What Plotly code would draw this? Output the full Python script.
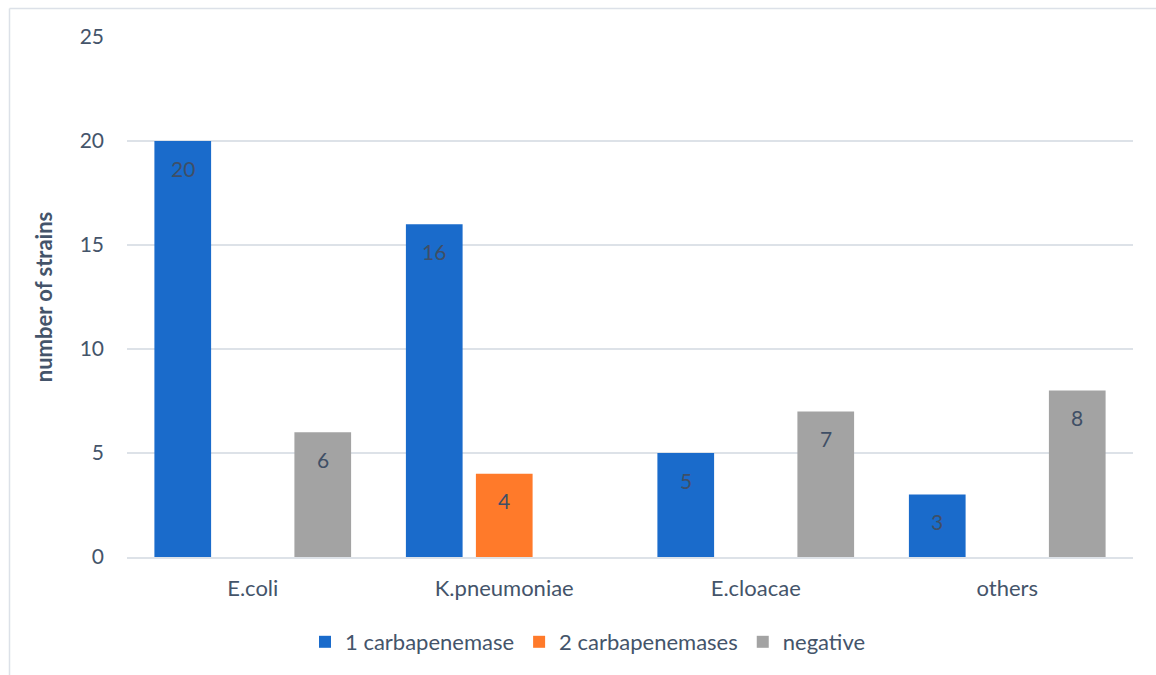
import plotly.graph_objects as go

# Strain counts per species, split by carbapenemase result
species = ["E.coli", "K.pneumoniae", "E.cloacae", "others"]
one_carbapenemase = [20, 16, 5, 3]
two_carbapenemases = [None, 4, None, None]
negative = [6, None, 7, 8]

series_names = ["1 carbapenemase", "2 carbapenemases", "negative"]
series_values = [one_carbapenemase, two_carbapenemases, negative]
series_colors = ["#1A6BCB", "#FF7A2A", "#A3A3A3"]

y_ticks = [0, 5, 10, 15, 20, 25]

TEXT = "#44546A"
GRID = "#DDE2E8"
FONT = "Lato"

BARGAP = 0.165
BARGROUPGAP = 0.19

fig = go.Figure()
for name, vals, col in zip(series_names, series_values, series_colors):
    fig.add_trace(go.Bar(
        x=species,
        y=vals,
        name=name,
        marker=dict(color=col, line=dict(width=0)),
    ))

# value labels, placed just under the top of each bar in its group slot
n_series = len(series_values)
slot = (1 - BARGAP) / n_series
annotations = []
for s, vals in enumerate(series_values):
    shift = -(1 - BARGAP) / 2 + (s + 0.5) * slot
    for i, v in enumerate(vals):
        if v is None:
            continue
        annotations.append(dict(
            x=i + shift, y=v, xref="x", yref="y",
            text=str(v), showarrow=False,
            yanchor="middle", yshift=-27,
            font=dict(family=FONT, size=21, color="#3F4F66"),
        ))

W, H = 1156, 675
ml, mr, mt, mb = 127, 23, 37, 118
pw, ph = W - ml - mr, H - mt - mb

def px_x(x):
    return (x - ml) / pw

def px_y(y):
    return (H - mb - y) / ph

fig.update_layout(
    width=W, height=H,
    margin=dict(l=ml, r=mr, t=mt, b=mb),
    paper_bgcolor="white",
    plot_bgcolor="white",
    barmode="group",
    bargap=BARGAP,
    bargroupgap=BARGROUPGAP,
    font=dict(family=FONT, color=TEXT, size=21),
    showlegend=True,
    legend=dict(
        orientation="h",
        x=px_x(588), xanchor="center",
        y=px_y(642), yanchor="middle",
        font=dict(family=FONT, size=22, color=TEXT),
        itemsizing="constant",
        traceorder="normal",
    ),
    xaxis=dict(
        showgrid=False,
        showline=True, linecolor=GRID, linewidth=2,
        ticks="", ticklabelstandoff=11,
        tickfont=dict(family=FONT, size=22, color=TEXT),
        fixedrange=True,
    ),
    yaxis=dict(
        range=[0, 25],
        tickvals=y_ticks,
        showgrid=True, gridcolor=GRID, gridwidth=2,
        zeroline=False, showline=False,
        ticks="", ticklabelstandoff=22,
        tickfont=dict(family=FONT, size=21, color=TEXT),
        title=dict(text="<b>number of strains</b>",
                   font=dict(family=FONT, size=22, color=TEXT),
                   standoff=20),
    ),
    annotations=annotations,
    shapes=[
        dict(type="line", xref="paper", yref="paper",
             x0=px_x(9.5), x1=px_x(W + 5), y0=px_y(8.5), y1=px_y(8.5),
             line=dict(color="#DCE1E8", width=1.5)),
        dict(type="line", xref="paper", yref="paper",
             x0=px_x(9.5), x1=px_x(9.5), y0=px_y(8.5), y1=px_y(H + 5),
             line=dict(color="#DCE1E8", width=1.5)),
    ],
)

fig.write_html("out.html")
